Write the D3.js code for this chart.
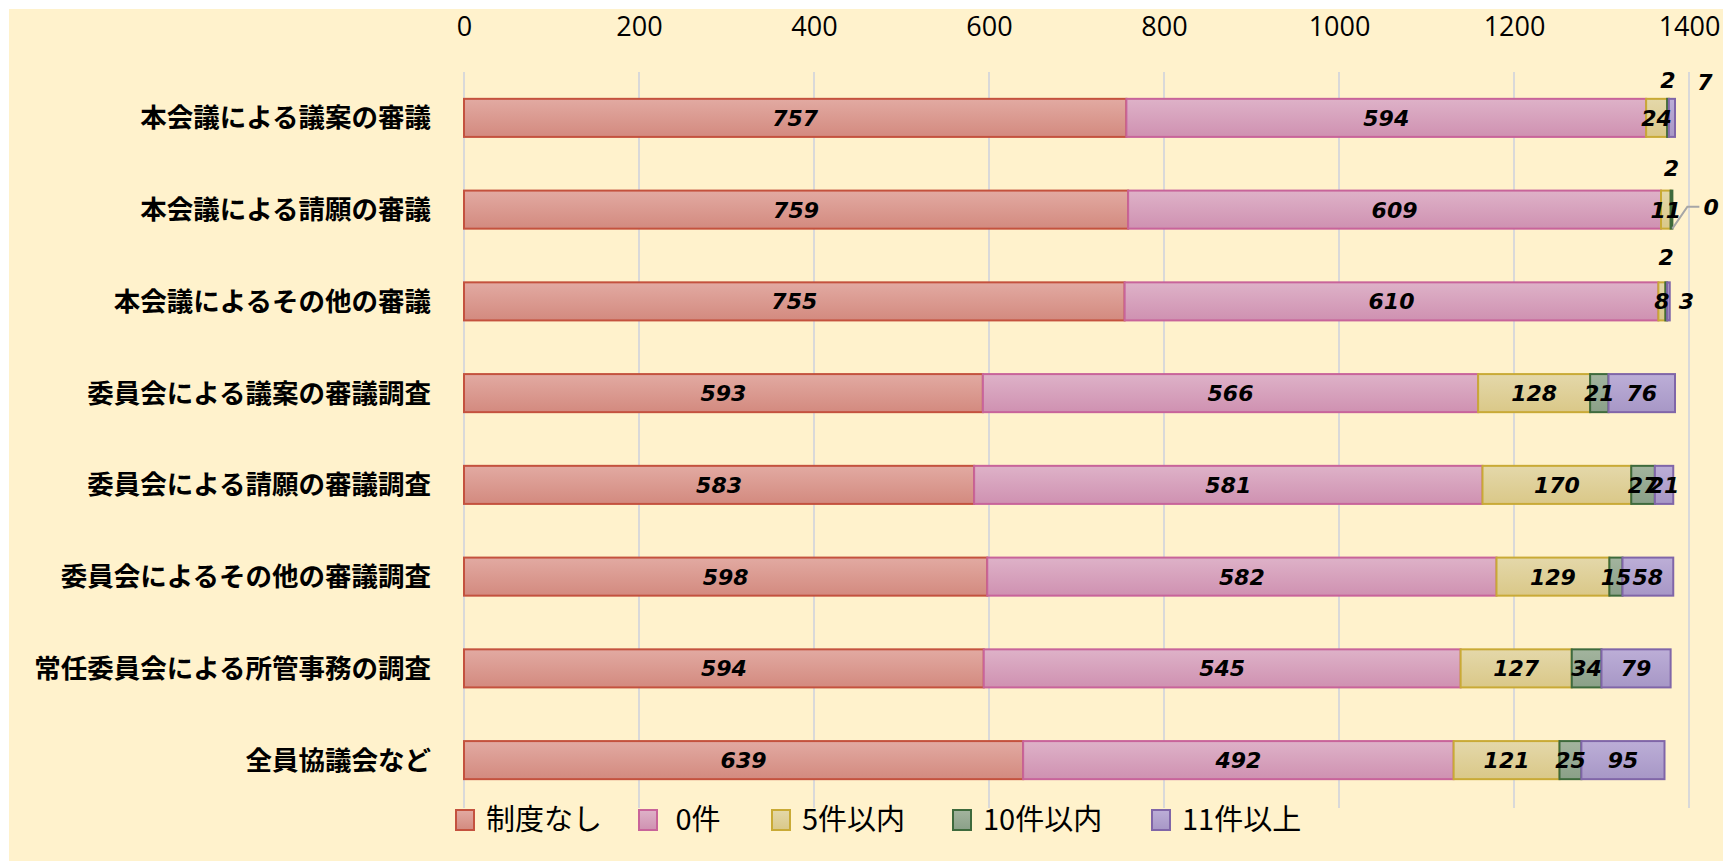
<!DOCTYPE html>
<html><head><meta charset="utf-8">
<script src="https://cdn.jsdelivr.net/npm/d3@7"></script>
<style>html,body{margin:0;padding:0;background:#fff;}svg{display:block;}</style>
</head><body>
<svg id="c" width="1723" height="865"></svg>
<script>
const categories = ["本会議による議案の審議","本会議による請願の審議","本会議によるその他の審議","委員会による議案の審議調査","委員会による請願の審議調査","委員会によるその他の審議調査","常任委員会による所管事務の調査","全員協議会など"];
const seriesNames = ["制度なし","0件","5件以内","10件以内","11件以上"];
const legendLabels = ["制度なし"," 0件","5件以内","10件以内","11件以上"];
const noSystem = [757,759,755,593,583,598,594,639];
const zero = [594,609,610,566,581,582,545,492];
const upTo5 = [24,11,8,128,170,129,127,121];
const upTo10 = [2,2,2,21,27,15,34,25];
const over11 = [7,0,3,76,21,58,79,95];
const xTicks = [0,200,400,600,800,1000,1200,1400];

const values = [noSystem, zero, upTo5, upTo10, over11];
const fills = [["#e2aaa2","#d38a7f"],["#deb2c8","#cf91b1"],["#e4d8aa","#dac888"],["#a3b49e","#8aa088"],["#bcaed7","#a797c6"]];
const strokes = ["#c4523e","#c8649a","#c9aa36","#3e6a3c","#8066a8"];

const W=1723,H=865;
const svg=d3.select("#c");
svg.append("rect").attr("x",9).attr("y",9).attr("width",W-9).attr("height",852).attr("fill","#fff2cc");

const x=d3.scaleLinear().domain([0,1400]).range([464,1689]);
const y=d3.scaleBand().domain(categories).range([72,806]).paddingInner(0.585).paddingOuter(0.2925);

const defs=svg.append("defs");
fills.forEach((f,i)=>{
  const g=defs.append("linearGradient").attr("id","g"+i).attr("x1",0).attr("y1",0).attr("x2",0).attr("y2",1);
  g.append("stop").attr("offset","0%").attr("stop-color",f[0]);
  g.append("stop").attr("offset","100%").attr("stop-color",f[1]);
});

// gridlines
svg.append("g").selectAll("line").data(xTicks).join("line")
  .attr("x1",d=>x(d)).attr("x2",d=>x(d)).attr("y1",72).attr("y2",808)
  .attr("stroke","#d9d9d9").attr("stroke-width",2);

// top axis labels
const ax=svg.append("g").attr("transform","translate(0,26)").call(d3.axisTop(x).tickValues(xTicks).tickSize(0).tickPadding(0).tickFormat(d3.format("d")));
ax.select(".domain").remove();
ax.selectAll("text").attr("font-family","'Open Sans','Noto Sans',sans-serif").attr("font-size",27).attr("fill","#000").attr("dy","0.36em");

// category labels
svg.append("g").selectAll("text").data(categories).join("text")
  .attr("x",431).attr("y",d=>y(d)+y.bandwidth()/2).attr("dy","0.36em")
  .attr("text-anchor","end").attr("font-family","'Noto Sans CJK JP',sans-serif").attr("font-weight","bold")
  .attr("font-size",26.5).attr("fill","#000").text(d=>d);

// stacked data
const rows=categories.map((c,ci)=>{const o={cat:c};seriesNames.forEach((s,si)=>o[s]=values[si][ci]);return o;});
const stack=d3.stack().keys(seriesNames)(rows);

const bars=svg.append("g");
stack.forEach((layer,si)=>{
  bars.append("g").selectAll("rect").data(layer).join("rect")
    .attr("x",d=>x(d[0])).attr("y",d=>y(d.data.cat)).attr("width",d=>Math.max(0,x(d[1])-x(d[0])))
    .attr("height",y.bandwidth()).attr("fill","url(#g"+si+")")
    .attr("stroke",strokes[si]).attr("stroke-width",d=>(d[1]-d[0])>0?2:0);
});

// labels
const special = {"3-0":[0,-38,"middle"],"3-1":[0,-42,"middle"],"3-2":[0,-44,"middle"],"4-0":[30,-36,"middle"],"4-2":[9,0,"start"]};
const lab=svg.append("g").attr("font-family","'DejaVu Sans',Verdana,sans-serif").attr("font-weight","bold").attr("font-style","italic").attr("font-size",22).attr("fill","#000");
stack.forEach((layer,si)=>{
  layer.forEach((d,ci)=>{
    const v=d[1]-d[0];
    const cy=y(d.data.cat)+y.bandwidth()/2;
    let cx=(x(d[0])+x(d[1]))/2, anchor="middle", dy=0;
    const key=si+"-"+ci;
    if(si===4&&ci===1){
      const ex=x(d[1]), by=y(d.data.cat)+y.bandwidth();
      svg.append("path").attr("d",`M${ex},${by} L${ex+15},${cy-3} L${ex+27},${cy-3}`).attr("fill","none").attr("stroke","#a6a6a6").attr("stroke-width",2);
      lab.append("text").attr("x",ex+31).attr("y",cy-3).attr("dy","0.36em").attr("text-anchor","start").text(v);
      return;
    }
    if(special[key]){
      const s=special[key];
      if(s[2]==="start") cx=x(d[1])+s[0]; else cx=(si===4?x(d[1]):cx)+s[0];
      dy=s[1]; anchor=s[2];
    }
    lab.append("text").attr("x",cx).attr("y",cy+dy).attr("dy","0.36em").attr("text-anchor",anchor).text(v);
  });
});

// legend
const lg=svg.append("g");
const lx=[456,639,772,953,1152];
seriesNames.forEach((s,i)=>{
  lg.append("rect").attr("x",lx[i]).attr("y",810).attr("width",18).attr("height",20).attr("fill","url(#g"+i+")").attr("stroke",strokes[i]).attr("stroke-width",2);
  lg.append("text").attr("x",lx[i]+30).attr("y",820).attr("dy","0.36em").attr("font-family","'Noto Sans CJK JP',sans-serif").attr("font-size",29).attr("fill","#000").attr("xml:space","preserve").style("white-space","pre").text(legendLabels[i]);
});
</script>
</body></html>
